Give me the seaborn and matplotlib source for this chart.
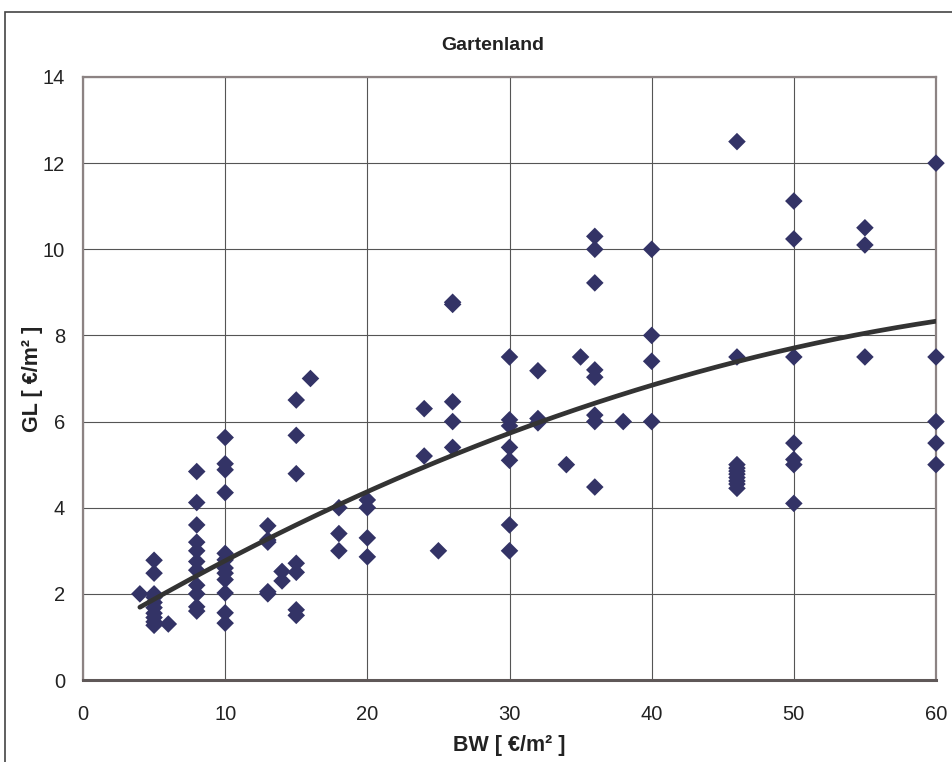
import numpy as np
import pandas as pd
import matplotlib
matplotlib.use('Agg')
import matplotlib.pyplot as plt
from matplotlib.patches import Rectangle
from matplotlib.ticker import MultipleLocator
import seaborn as sns

# values (BW x, GL y)
bw_4 = [4]
gl_4 = [2.0]
bw_5 = [5] * 10
gl_5 = [2.78, 2.48, 2.0, 1.92, 1.8, 1.68, 1.55, 1.45, 1.35, 1.27]
bw_6 = [6]
gl_6 = [1.3]
bw_8 = [8] * 11
gl_8 = [4.84, 4.12, 3.6, 3.2, 3.0, 2.75, 2.55, 2.2, 2.0, 1.7, 1.6]
bw_10 = [10] * 12
gl_10 = [5.63, 5.02, 4.88, 4.35, 2.94, 2.79, 2.6, 2.48, 2.33, 2.02, 1.56, 1.32]
bw_13 = [13] * 5
gl_13 = [3.58, 3.25, 3.2, 2.05, 2.0]
bw_14 = [14] * 2
gl_14 = [2.52, 2.3]
bw_15 = [15] * 7
gl_15 = [6.5, 5.68, 4.79, 2.71, 2.5, 1.63, 1.5]
bw_16 = [16]
gl_16 = [7.0]
bw_18 = [18] * 3
gl_18 = [4.0, 3.4, 3.0]
bw_20 = [20] * 4
gl_20 = [4.18, 4.0, 3.3, 2.86]
bw_24 = [24] * 2
gl_24 = [6.3, 5.2]
bw_25 = [25]
gl_25 = [3.0]
bw_26 = [26] * 5
gl_26 = [8.77, 8.72, 6.46, 6.0, 5.4]
bw_30 = [30] * 7
gl_30 = [7.5, 6.04, 5.9, 5.4, 5.1, 3.6, 3.0]
bw_32 = [32] * 3
gl_32 = [7.18, 6.07, 5.97]
bw_34 = [34]
gl_34 = [5.0]
bw_35 = [35]
gl_35 = [7.5]
bw_36 = [36] * 8
gl_36 = [10.3, 10.0, 9.22, 7.2, 7.03, 6.15, 6.0, 4.48]
bw_38 = [38]
gl_38 = [6.0]
bw_40 = [40] * 4
gl_40 = [10.0, 8.0, 7.4, 6.0]
bw_46 = [46] * 10
gl_46 = [12.5, 7.5, 5.0, 4.92, 4.85, 4.78, 4.7, 4.62, 4.55, 4.45]
bw_50 = [50] * 7
gl_50 = [11.12, 10.24, 7.5, 5.5, 5.12, 5.0, 4.1]
bw_55 = [55] * 3
gl_55 = [10.5, 10.1, 7.5]
bw_60 = [60] * 5
gl_60 = [12.0, 7.5, 6.0, 5.5, 5.0]

# polynomial trend line (order 2) as shown in the chart: c0 + c1*x + c2*x^2
trend_coef = [0.921, 0.1971, -0.001227]

bw = (bw_4 + bw_5 + bw_6 + bw_8 + bw_10 + bw_13 + bw_14 + bw_15 + bw_16 + bw_18 + bw_20
      + bw_24 + bw_25 + bw_26 + bw_30 + bw_32 + bw_34 + bw_35 + bw_36 + bw_38 + bw_40
      + bw_46 + bw_50 + bw_55 + bw_60)
gl = (gl_4 + gl_5 + gl_6 + gl_8 + gl_10 + gl_13 + gl_14 + gl_15 + gl_16 + gl_18 + gl_20
      + gl_24 + gl_25 + gl_26 + gl_30 + gl_32 + gl_34 + gl_35 + gl_36 + gl_38 + gl_40
      + gl_46 + gl_50 + gl_55 + gl_60)
df = pd.DataFrame({'BW': bw, 'GL': gl})

trend_x = np.linspace(min(bw), max(bw), 200)
trend_y = trend_coef[0] + trend_coef[1] * trend_x + trend_coef[2] * trend_x ** 2

sns.set_style('white')
plt.rcParams['font.family'] = ['Liberation Sans', 'DejaVu Sans']

fig = plt.figure(figsize=(9.52, 7.62), dpi=100)
ax = fig.add_axes([83 / 952, 1 - 680 / 762, 853 / 952, 603 / 762])

# outer chart frame
fig.patches.append(Rectangle((5 / 952, -0.1), 1.2, 1 - 12 / 762 + 0.1, transform=fig.transFigure,
                             fill=False, edgecolor='#444444', linewidth=1.2))

sns.scatterplot(data=df, x='BW', y='GL', marker='D', s=80, color='#333366',
                edgecolor='none', clip_on=False, zorder=3, ax=ax)

sns.lineplot(x=trend_x, y=trend_y, color='#333333', linewidth=3.4, zorder=4,
             solid_capstyle='round', ax=ax)

ax.set_xlim(0, 60)
ax.set_ylim(0, 14)
ax.xaxis.set_major_locator(MultipleLocator(10))
ax.xaxis.set_minor_locator(MultipleLocator(5))
ax.yaxis.set_major_locator(MultipleLocator(2))
ax.yaxis.set_minor_locator(MultipleLocator(0.5))
ax.grid(True, which='major', color='#555555', linewidth=0.8)
ax.set_axisbelow(True)

ax.tick_params(axis='both', which='major', direction='out', length=6, width=1,
               color='#444444', labelsize=14.5, labelcolor='#222222', pad=7)
ax.tick_params(axis='both', which='minor', direction='out', length=4, width=1,
               color='#444444')
ax.tick_params(axis='x', which='major', pad=12)

for side in ['top', 'right', 'left']:
    ax.spines[side].set_color('#8c8383')
    ax.spines[side].set_linewidth(1.6)
ax.spines['bottom'].set_color('#5f5858')
ax.spines['bottom'].set_linewidth(2.2)

ax.set_xlabel('BW [ €/m² ]', fontsize=15.5, fontweight='bold', color='#222222')
ax.set_ylabel('GL [ €/m² ]', fontsize=15.5, fontweight='bold', color='#222222')
ax.xaxis.set_label_coords(0.5, -0.091)
ax.yaxis.set_label_coords(-0.047, 0.5)

fig.text(493 / 952, 1 - 45 / 762, 'Gartenland', ha='center', va='center',
         fontsize=14, fontweight='bold', color='#222222')

fig.savefig('out.png', dpi=100)
